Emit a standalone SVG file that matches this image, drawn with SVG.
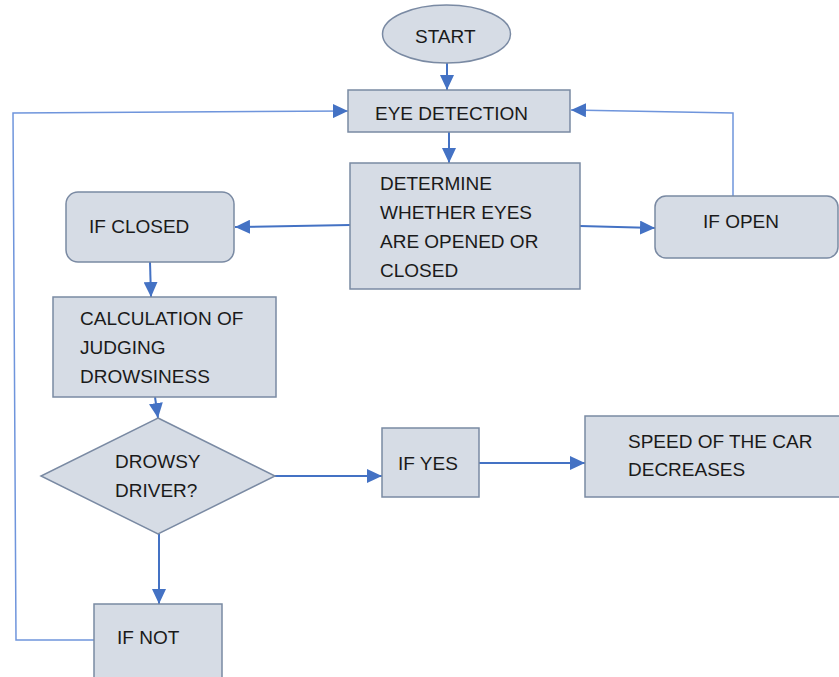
<svg xmlns="http://www.w3.org/2000/svg" width="839" height="677" viewBox="0 0 839 677">
<defs>
<marker id="ah" markerUnits="userSpaceOnUse" markerWidth="16" markerHeight="14" refX="15" refY="7" orient="auto">
<path d="M0,0 L15,7 L0,14 Z" fill="#4472c4"/>
</marker>
</defs>
<style>
.n{fill:#d6dce5;stroke:#7a8aa3;stroke-width:1.5}
.t{font-family:"Liberation Sans",Arial,sans-serif;font-size:19px;fill:#1a1a1a}
.c{fill:none;stroke:#4472c4;stroke-width:2}
.l{fill:none;stroke:#6f95dc;stroke-width:1.5}
</style>
<rect width="839" height="677" fill="#ffffff"/>
<g id="connectors">
<line class="c" x1="447" y1="63" x2="447" y2="90" marker-end="url(#ah)"/>
<line class="c" x1="449" y1="132" x2="449" y2="163" marker-end="url(#ah)"/>
<line class="c" x1="350" y1="225" x2="235" y2="227" marker-end="url(#ah)"/>
<line class="c" x1="580" y1="226" x2="655" y2="228" marker-end="url(#ah)"/>
<polyline class="l" points="733,196 733,113 571,110" marker-end="url(#ah)"/>
<line class="c" x1="150" y1="262" x2="151" y2="297" marker-end="url(#ah)"/>
<line class="c" x1="155" y1="397" x2="158" y2="418" marker-end="url(#ah)"/>
<line class="c" x1="275" y1="476" x2="382" y2="476" marker-end="url(#ah)"/>
<line class="c" x1="479" y1="463" x2="585" y2="463" marker-end="url(#ah)"/>
<line class="c" x1="159" y1="534" x2="159" y2="604" marker-end="url(#ah)"/>
<polyline class="l" points="94,640 16,640 13,113 348,111" marker-end="url(#ah)"/>
</g>
<g id="start">
<ellipse class="n" cx="446.5" cy="34" rx="64" ry="29"/>
<text class="t" x="415" y="43">START</text>
</g>
<g id="eye-detection">
<rect class="n" x="348" y="90" width="222" height="42"/>
<text class="t" x="375" y="120">EYE DETECTION</text>
</g>
<g id="determine">
<rect class="n" x="350" y="163" width="230" height="126"/>
<text class="t" x="380" y="190">DETERMINE</text>
<text class="t" x="380" y="219">WHETHER EYES</text>
<text class="t" x="380" y="248">ARE OPENED OR</text>
<text class="t" x="380" y="277">CLOSED</text>
</g>
<g id="if-open">
<rect class="n" x="655" y="196" width="183" height="62" rx="11"/>
<text class="t" x="703" y="228">IF OPEN</text>
</g>
<g id="if-closed">
<rect class="n" x="66" y="192" width="168" height="70" rx="12"/>
<text class="t" x="89" y="233">IF CLOSED</text>
</g>
<g id="calculation">
<rect class="n" x="53" y="297" width="223" height="100"/>
<text class="t" x="80" y="325">CALCULATION OF</text>
<text class="t" x="80" y="354">JUDGING</text>
<text class="t" x="80" y="383">DROWSINESS</text>
</g>
<g id="drowsy">
<polygon class="n" points="158,418 275,476 158,534 41,476"/>
<text class="t" x="115" y="468">DROWSY</text>
<text class="t" x="115" y="497">DRIVER?</text>
</g>
<g id="if-yes">
<rect class="n" x="382" y="428" width="97" height="69"/>
<text class="t" x="398" y="470">IF YES</text>
</g>
<g id="speed">
<rect class="n" x="585" y="416" width="260" height="81"/>
<text class="t" x="628" y="448">SPEED OF THE CAR</text>
<text class="t" x="628" y="476">DECREASES</text>
</g>
<g id="if-not">
<rect class="n" x="94" y="604" width="128" height="85"/>
<text class="t" x="117" y="644">IF NOT</text>
</g>
</svg>
